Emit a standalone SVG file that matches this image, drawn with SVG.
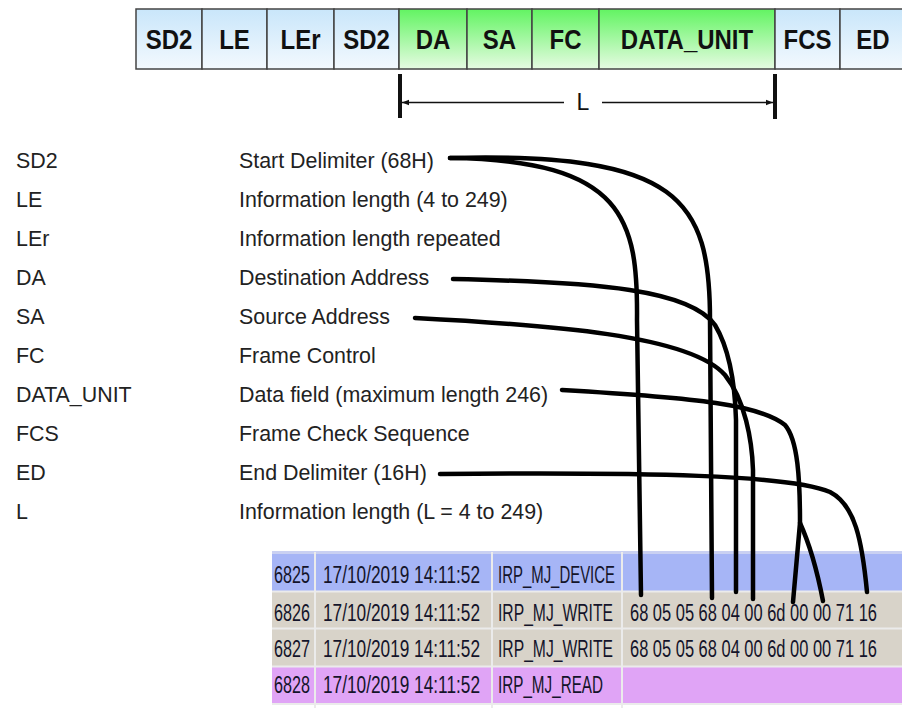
<svg xmlns="http://www.w3.org/2000/svg" width="902" height="708" viewBox="0 0 902 708">
<defs>
<linearGradient id="gb" x1="0" y1="0" x2="0" y2="1"><stop offset="0" stop-color="#c9e6fa"/><stop offset="1" stop-color="#f3f9fe"/></linearGradient>
<linearGradient id="gg" x1="0" y1="0" x2="0" y2="1"><stop offset="0" stop-color="#62f462"/><stop offset="1" stop-color="#e6fbe2"/></linearGradient>
<marker id="ah" viewBox="0 0 10 10" refX="10" refY="5" markerWidth="7" markerHeight="7" markerUnits="userSpaceOnUse" orient="auto-start-reverse"><path d="M0,1 L10,5 L0,9 Z" fill="#111"/></marker>
<style>
.cb{stroke:#444;stroke-width:1.5}
.hd{font-family:"Liberation Sans",Arial,sans-serif;font-weight:bold;font-size:24px;fill:#111;text-anchor:middle}
.lg{font-family:"Liberation Sans",Arial,sans-serif;font-size:21.4px;fill:#222}
.tb{font-family:"Liberation Sans",Arial,sans-serif;font-size:16.5px;fill:#14142a}
.cn{fill:none;stroke:#000;stroke-width:4.5;stroke-linecap:round;stroke-linejoin:round}
.sep{stroke:#ebebeb;stroke-width:2}
</style>
</defs>
<rect width="902" height="708" fill="#fff"/>

<g id="header">
<g id="h-sd2a"><rect class="cb" x="136" y="9" width="66" height="60" fill="url(#gb)"/><text class="hd" transform="translate(169,48.5) scale(1,1.18)">SD2</text></g>
<g id="h-le"><rect class="cb" x="202" y="9" width="65" height="60" fill="url(#gb)"/><text class="hd" transform="translate(234.5,48.5) scale(1,1.18)">LE</text></g>
<g id="h-ler"><rect class="cb" x="267" y="9" width="67" height="60" fill="url(#gb)"/><text class="hd" transform="translate(300.5,48.5) scale(1,1.18)">LEr</text></g>
<g id="h-sd2b"><rect class="cb" x="334" y="9" width="65" height="60" fill="url(#gb)"/><text class="hd" transform="translate(366.5,48.5) scale(1,1.18)">SD2</text></g>
<g id="h-da"><rect class="cb" x="399" y="9" width="68" height="60" fill="url(#gg)"/><text class="hd" transform="translate(433,48.5) scale(1,1.18)">DA</text></g>
<g id="h-sa"><rect class="cb" x="467" y="9" width="65" height="60" fill="url(#gg)"/><text class="hd" transform="translate(499.5,48.5) scale(1,1.18)">SA</text></g>
<g id="h-fc"><rect class="cb" x="532" y="9" width="67" height="60" fill="url(#gg)"/><text class="hd" transform="translate(565.5,48.5) scale(1,1.18)">FC</text></g>
<g id="h-du"><rect class="cb" x="599" y="9" width="176" height="60" fill="url(#gg)"/><text class="hd" transform="translate(687,48.5) scale(1,1.18)">DATA_UNIT</text></g>
<g id="h-fcs"><rect class="cb" x="775" y="9" width="65" height="60" fill="url(#gb)"/><text class="hd" transform="translate(807.5,48.5) scale(1,1.18)">FCS</text></g>
<g id="h-ed"><rect class="cb" x="840" y="9" width="66" height="60" fill="url(#gb)"/><text class="hd" transform="translate(873,48.5) scale(1,1.18)">ED</text></g>
</g>

<g id="length-marker">
<line x1="400" y1="74" x2="400" y2="118" stroke="#111" stroke-width="4"/>
<line x1="775" y1="74" x2="775" y2="119" stroke="#111" stroke-width="4"/>
<line x1="402" y1="102.5" x2="564" y2="102.5" stroke="#111" stroke-width="1.5" marker-start="url(#ah)"/>
<line x1="602" y1="102.5" x2="773" y2="102.5" stroke="#111" stroke-width="1.5" marker-end="url(#ah)"/>
<text x="583" y="110" font-family="Liberation Sans, Arial, sans-serif" font-size="23" fill="#111" text-anchor="middle">L</text>
</g>

<g id="legend">
<g id="lg-sd2"><text class="lg" x="16" y="167.5">SD2</text><text class="lg" x="239" y="167.5">Start Delimiter (68H)</text></g>
<g id="lg-le"><text class="lg" x="16" y="206.5">LE</text><text class="lg" x="239" y="206.5">Information length (4 to 249)</text></g>
<g id="lg-ler"><text class="lg" x="16" y="245.5">LEr</text><text class="lg" x="239" y="245.5">Information length repeated</text></g>
<g id="lg-da"><text class="lg" x="16" y="284.5">DA</text><text class="lg" x="239" y="284.5">Destination Address</text></g>
<g id="lg-sa"><text class="lg" x="16" y="323.5">SA</text><text class="lg" x="239" y="323.5">Source Address</text></g>
<g id="lg-fc"><text class="lg" x="16" y="362.5">FC</text><text class="lg" x="239" y="362.5">Frame Control</text></g>
<g id="lg-du"><text class="lg" x="16" y="401.5">DATA_UNIT</text><text class="lg" x="239" y="401.5">Data field (maximum length 246)</text></g>
<g id="lg-fcs"><text class="lg" x="16" y="440.5">FCS</text><text class="lg" x="239" y="440.5">Frame Check Sequence</text></g>
<g id="lg-ed"><text class="lg" x="16" y="479.5">ED</text><text class="lg" x="239" y="479.5">End Delimiter (16H)</text></g>
<g id="lg-l"><text class="lg" x="16" y="518.5">L</text><text class="lg" x="239" y="518.5">Information length (L = 4 to 249)</text></g>
</g>

<g id="log-table">
<rect x="272" y="551" width="630" height="3" fill="#c9d0f2"/>
<rect x="272" y="554" width="630" height="37" fill="#a6b5f6"/>
<rect x="272" y="592" width="630" height="36" fill="#d8d3c9"/>
<rect x="272" y="629" width="630" height="37" fill="#d8d3c9"/>
<rect x="272" y="667" width="630" height="36" fill="#e0a4f6"/>
<line class="sep" x1="272" y1="591.5" x2="902" y2="591.5"/>
<line class="sep" x1="272" y1="628.5" x2="902" y2="628.5"/>
<line class="sep" x1="272" y1="666.5" x2="902" y2="666.5"/>
<line class="sep" x1="272" y1="704" x2="902" y2="704"/>
<line class="sep" x1="315" y1="552" x2="315" y2="708"/>
<line class="sep" x1="492" y1="552" x2="492" y2="708"/>
<line class="sep" x1="622" y1="552" x2="622" y2="708"/>
<g id="r6825" transform="translate(0,583) scale(1,1.45)">
<text class="tb" x="274" y="0" textLength="36" lengthAdjust="spacingAndGlyphs">6825</text>
<text class="tb" x="323" y="0" textLength="157" lengthAdjust="spacingAndGlyphs">17/10/2019 14:11:52</text>
<text class="tb" x="498" y="0" textLength="117" lengthAdjust="spacingAndGlyphs">IRP_MJ_DEVICE</text></g>
<g id="r6826" transform="translate(0,621) scale(1,1.45)">
<text class="tb" x="274" y="0" textLength="36" lengthAdjust="spacingAndGlyphs">6826</text>
<text class="tb" x="323" y="0" textLength="157" lengthAdjust="spacingAndGlyphs">17/10/2019 14:11:52</text>
<text class="tb" x="498" y="0" textLength="115" lengthAdjust="spacingAndGlyphs">IRP_MJ_WRITE</text>
<text class="tb" x="630" y="0" textLength="247" lengthAdjust="spacingAndGlyphs">68 05 05 68 04 00 6d 00 00 71 16</text></g>
<g id="r6827" transform="translate(0,657) scale(1,1.45)">
<text class="tb" x="274" y="0" textLength="36" lengthAdjust="spacingAndGlyphs">6827</text>
<text class="tb" x="323" y="0" textLength="157" lengthAdjust="spacingAndGlyphs">17/10/2019 14:11:52</text>
<text class="tb" x="498" y="0" textLength="115" lengthAdjust="spacingAndGlyphs">IRP_MJ_WRITE</text>
<text class="tb" x="630" y="0" textLength="247" lengthAdjust="spacingAndGlyphs">68 05 05 68 04 00 6d 00 00 71 16</text></g>
<g id="r6828" transform="translate(0,693) scale(1,1.45)">
<text class="tb" x="274" y="0" textLength="36" lengthAdjust="spacingAndGlyphs">6828</text>
<text class="tb" x="323" y="0" textLength="157" lengthAdjust="spacingAndGlyphs">17/10/2019 14:11:52</text>
<text class="tb" x="498" y="0" textLength="105" lengthAdjust="spacingAndGlyphs">IRP_MJ_READ</text></g>
</g>

<g id="connectors">
<path class="cn" d="M450,158 C625,160 638,220 637,320 L641,595"/>
<path class="cn" d="M450,158 C680,152 710,200 710,320 L712,598"/>
<path class="cn" d="M453,279 C600,282 690,290 715,325 C730,350 735,385 736,420 L736,592"/>
<path class="cn" d="M415,318 C550,325 690,335 725,375 C745,400 752,440 753,470 L753,599"/>
<path class="cn" d="M562,390 C700,398 760,405 785,425 C798,440 800,480 800,523 L793,602"/>
<path class="cn" d="M800,523 C810,545 818,575 823,601"/>
<path class="cn" d="M440,474 C650,472 790,475 830,492 C855,505 862,540 867,592"/>
</g>
</svg>
